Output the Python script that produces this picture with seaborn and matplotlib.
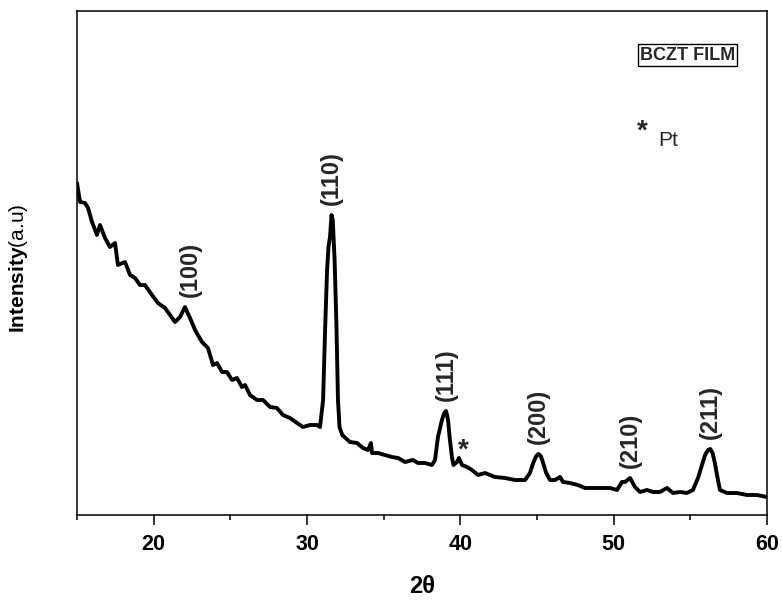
import matplotlib
matplotlib.use("Agg")
import matplotlib.pyplot as plt
import seaborn as sns
import pandas as pd
from matplotlib.ticker import FixedLocator

# XRD pattern of the BCZT film: diffraction angle (2θ, degrees) and intensity (a.u.)
two_theta = [
    15.00, 15.20, 15.52, 15.72, 15.98, 16.30, 16.50, 16.83, 17.15, 17.48,
    17.67, 18.13, 18.46, 18.78, 19.11, 19.43, 19.89, 20.28, 20.74, 21.07,
    21.39, 21.72, 22.04, 22.37, 22.70, 23.15, 23.54, 23.87, 24.13, 24.46,
    24.78, 25.11, 25.43, 25.76, 25.96, 26.28, 26.74, 27.13, 27.59, 28.04,
    28.43, 28.89, 29.35, 29.74, 30.20, 30.65, 30.85,
    31.05, 31.18, 31.31, 31.40, 31.50, 31.60, 31.68, 31.80, 31.92, 32.02,
    32.12, 32.30,
    32.80, 33.26, 33.65, 33.98, 34.17, 34.24, 34.63, 35.09, 35.54, 35.94,
    36.39, 36.91, 37.24, 37.70, 38.15,
    38.35, 38.54, 38.80, 38.95, 39.07, 39.20, 39.30, 39.45, 39.55, 39.78,
    39.91, 40.11, 40.44, 40.76, 41.15, 41.61, 42.26, 42.91, 43.57, 44.22,
    44.54, 44.75, 44.95, 45.10, 45.25, 45.40, 45.60, 45.85, 46.17, 46.50,
    46.70, 47.15, 47.67, 48.13, 48.59, 49.24, 49.76, 50.22, 50.54, 50.74,
    51.07, 51.39, 51.72, 52.17, 52.57, 53.02, 53.48, 53.87, 54.33, 54.78,
    55.17,
    55.50, 55.76, 55.96, 56.15, 56.30, 56.45, 56.60, 56.74, 56.93, 57.39,
    58.04, 58.70, 59.35, 60.00,
]
intensity = [
    332, 313, 312, 307, 293, 280, 290, 277, 268, 272,
    250, 253, 240, 237, 230, 230, 220, 212, 207, 200,
    193, 198, 208, 197, 185, 173, 167, 150, 152, 143,
    143, 135, 137, 128, 130, 120, 115, 115, 108, 107,
    100, 97, 92, 88, 90, 90, 88,
    115, 185, 245, 268, 278, 300, 295, 255, 190, 115,
    88, 80,
    73, 72, 67, 65, 72, 62, 62, 60, 58, 57,
    53, 55, 52, 52, 50,
    55, 78, 95, 102, 104, 95, 78, 58, 50, 53,
    57, 50, 48, 45, 40, 42, 38, 37, 35, 35,
    42, 52, 59, 61, 59, 52, 42, 35, 35, 38,
    33, 32, 30, 27, 27, 27, 27, 25, 33, 33,
    37, 28, 23, 25, 23, 23, 27, 22, 23, 22,
    25,
    37, 50, 60, 65, 66, 62, 52, 40, 25, 22,
    22, 20, 20, 18,
]

# Perovskite reflections and where their peaks sit
hkl_labels = ["(100)", "(110)", "(111)", "(200)", "(210)", "(211)"]
hkl_peaks = [22.04, 31.60, 39.07, 45.10, 51.07, 56.30]
pt_peak = 39.91

x_ticks = [20, 30, 40, 50, 60]
x_minor = [15, 25, 35, 45, 55]

sns.set_theme(style="white")
plt.rcParams["font.family"] = ["Liberation Sans", "DejaVu Sans"]
plt.rcParams["mathtext.fontset"] = "custom"
plt.rcParams["mathtext.rm"] = "Liberation Sans"
plt.rcParams["mathtext.bf"] = "Liberation Sans:bold"

fig, ax = plt.subplots(figsize=(7.82, 6.03), dpi=100)
fig.subplots_adjust(left=77 / 782, right=767 / 782, bottom=1 - 515 / 603, top=1 - 11 / 603)

df = pd.DataFrame({"two_theta": two_theta, "intensity": intensity})
sns.lineplot(data=df, x="two_theta", y="intensity", color="black", linewidth=2.8,
             ax=ax, solid_joinstyle="round", solid_capstyle="round")

ax.set_xlim(15, 60)
ax.set_ylim(0, 504)
ax.set_xticks(x_ticks)
ax.xaxis.set_minor_locator(FixedLocator(x_minor))
ax.set_yticks([])
ax.tick_params(axis="x", which="major", direction="out", length=7, width=1.1,
               colors="black", labelsize=15.5, pad=7, bottom=True, top=False)
ax.tick_params(axis="x", which="minor", direction="out", length=3.6, width=1.1,
               colors="black", bottom=True, top=False)
for lbl in ax.get_xticklabels():
    lbl.set_fontweight("bold")
for sp in ax.spines.values():
    sp.set_linewidth(1.1)
    sp.set_color("black")

ax.set_xlabel("2θ", fontsize=17, fontweight="bold", labelpad=14, color="black")
ax.set_ylabel(r"$\mathbf{Intensity}$(a.u)", fontsize=15, color="black")
ax.yaxis.set_label_coords(-0.068, 0.49)

# Miller indices above each reflection
lookup = dict(zip(two_theta, intensity))
for lab, pos in zip(hkl_labels, hkl_peaks):
    dx = 4 if lab == "(100)" else 0
    ax.annotate(lab, xy=(pos, lookup[pos]), xytext=(dx, 7), textcoords="offset points",
                rotation=90, ha="center", va="bottom", fontsize=17, fontweight="bold")

# Platinum substrate reflection
ax.annotate("*", xy=(pt_peak, lookup[pt_peak]), xytext=(3, 0), textcoords="offset points",
            ha="center", va="baseline", fontsize=20, fontweight="bold")

ax.text(54.82, 460, "BCZT FILM", ha="center", va="center", fontsize=13, fontweight="bold",
        bbox=dict(boxstyle="square,pad=0.12", fc="white", ec="black", lw=1))
ax.text(51.85, 376, "*", ha="center", va="baseline", fontsize=20, fontweight="bold")
ax.text(52.89, 369, "Pt", ha="left", va="baseline", fontsize=15)

fig.savefig("out.png", dpi=100)
